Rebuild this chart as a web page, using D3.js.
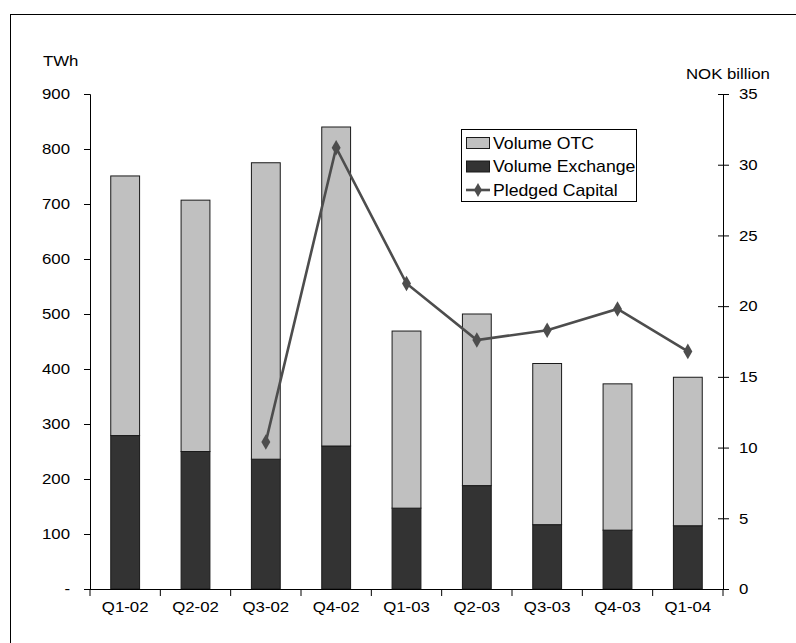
<!DOCTYPE html>
<html>
<head>
<meta charset="utf-8">
<script src="https://cdn.jsdelivr.net/npm/d3@7"></script>
<style>
  html, body { margin: 0; padding: 0; background: #fff; }
  svg { display: block; font-family: "Liberation Sans", Arial, sans-serif; }
</style>
</head>
<body>
<svg id="chart" width="796" height="643"></svg>
<script>
// Quarterly traded volumes (TWh) and pledged capital (NOK billion)
const quarters = ["Q1-02", "Q2-02", "Q3-02", "Q4-02", "Q1-03", "Q2-03", "Q3-03", "Q4-03", "Q1-04"];
const volumeExchange = [279, 250, 236, 260, 147, 188, 117, 107, 115];
const volumeOTC = [472, 457, 539, 580, 322, 312, 293, 266, 270];
const pledgedCapital = [null, null, 10.4, 31.2, 21.6, 17.6, 18.3, 19.8, 16.8];
const leftTicks = [0, 100, 200, 300, 400, 500, 600, 700, 800, 900];
const rightTicks = [0, 5, 10, 15, 20, 25, 30, 35];

const svg = d3.select("#chart");
const plot = { left: 90, right: 723, top: 94, bottom: 589 };
const fontSize = 15;
const widen = 1.12; // the chart's lettering is set slightly wide

// widen text horizontally while keeping its anchor point in place
function stretch(sel, k) {
  sel.each(function () {
    const t = d3.select(this);
    const xv = +(t.attr("x") || 0);
    t.attr("x", xv / k).attr("transform", `scale(${k},1)`);
  });
}

// outer chart frame (its right and bottom edges run past the page)
svg.append("rect")
  .attr("x", 10.5).attr("y", 14.5)
  .attr("width", 820).attr("height", 660)
  .attr("fill", "none").attr("stroke", "#000").attr("stroke-width", 1);

const x = d3.scaleBand().domain(quarters)
  .range([plot.left, plot.right]).paddingInner(0.59).paddingOuter(0.295);
const yL = d3.scaleLinear().domain([0, 900]).range([plot.bottom, plot.top]);
const yR = d3.scaleLinear().domain([0, 35]).range([plot.bottom, plot.top]);

// stacked bars: exchange at the bottom, OTC on top
const rows = quarters.map((q, i) => ({ q, ex: volumeExchange[i], otc: volumeOTC[i] }));
const stack = d3.stack().keys(["ex", "otc"])(rows);
const fills = { ex: "#333333", otc: "#c0c0c0" };

svg.append("g").selectAll("g").data(stack).join("g")
  .attr("fill", d => fills[d.key])
  .selectAll("rect").data(d => d).join("rect")
  .attr("x", d => x(d.data.q))
  .attr("width", x.bandwidth())
  .attr("y", d => yL(d[1]))
  .attr("height", d => yL(d[0]) - yL(d[1]))
  .attr("stroke", "#1a1a1a").attr("stroke-width", 1);

// left axis
const gL = svg.append("g").attr("transform", `translate(${plot.left},0)`)
  .call(d3.axisLeft(yL).tickValues(leftTicks).tickSize(6).tickPadding(14)
    .tickFormat(d => d === 0 ? "-" : d3.format("d")(d)));
// right axis, ticks crossing the line
const gR = svg.append("g").attr("transform", `translate(${plot.right},0)`)
  .call(d3.axisRight(yR).tickValues(rightTicks).tickSize(6).tickPadding(10));
gR.selectAll(".tick line").attr("x1", -5);
// category axis, ticks between bars
const gB = svg.append("g").attr("transform", `translate(0,${plot.bottom})`)
  .call(d3.axisBottom(x).tickSize(0).tickPadding(12));
const bounds = d3.range(quarters.length + 1).map(i => plot.left + i * x.step());
gB.selectAll(".sep").data(bounds).join("line").attr("class", "sep")
  .attr("x1", d => d).attr("x2", d => d).attr("y1", 0).attr("y2", 7)
  .attr("stroke", "#000");

[gL, gR, gB].forEach(g => {
  g.select(".domain").attr("stroke", "#000");
  g.selectAll(".tick line").attr("stroke", "#000");
  g.selectAll("text").attr("font-size", fontSize).attr("fill", "#000")
    .attr("font-family", "Liberation Sans, Arial, sans-serif")
    .call(stretch, widen);
});
gB.select(".domain").attr("d", `M${plot.left},0.5H${plot.right}`);

// pledged capital line
const pts = quarters.map((q, i) => ({ q, v: pledgedCapital[i] })).filter(d => d.v != null);
const cx = d => x(d.q) + x.bandwidth() / 2;
svg.append("path").datum(pts)
  .attr("d", d3.line().x(cx).y(d => yR(d.v)))
  .attr("fill", "none").attr("stroke", "#4d4d4d").attr("stroke-width", 2.6);
svg.append("g").selectAll("path").data(pts).join("path")
  .attr("transform", d => `translate(${cx(d)},${yR(d.v)})`)
  .attr("d", d3.symbol(d3.symbolDiamond, 70))
  .attr("fill", "#4d4d4d");

// axis titles
svg.append("text").attr("x", 43).attr("y", 66).attr("font-size", fontSize).text("TWh").call(stretch, widen);
svg.append("text").attr("x", 686).attr("y", 79).attr("font-size", fontSize).text("NOK billion").call(stretch, widen);

// legend
const lg = svg.append("g");
lg.append("rect").attr("x", 461.5).attr("y", 129.5).attr("width", 175).attr("height", 72)
  .attr("fill", "#fff").attr("stroke", "#000");
const legendItems = [
  { label: "Volume OTC", kind: "box", color: fills.otc },
  { label: "Volume Exchange", kind: "box", color: fills.ex },
  { label: "Pledged Capital", kind: "line", color: "#4d4d4d" }
];
legendItems.forEach((d, i) => {
  const cy = 143 + i * 23.5;
  if (d.kind === "box") {
    lg.append("rect").attr("x", 466.5).attr("y", cy - 5.5).attr("width", 23).attr("height", 11)
      .attr("fill", d.color).attr("stroke", "#1a1a1a");
  } else {
    lg.append("line").attr("x1", 466).attr("x2", 490).attr("y1", cy).attr("y2", cy)
      .attr("stroke", d.color).attr("stroke-width", 2.6);
    lg.append("path").attr("transform", `translate(478,${cy})`)
      .attr("d", d3.symbol(d3.symbolDiamond, 55)).attr("fill", d.color);
  }
  lg.append("text").attr("x", 493).attr("y", cy + 6).attr("font-size", 17).text(d.label)
    .call(stretch, 1.04);
});
</script>
</body>
</html>
